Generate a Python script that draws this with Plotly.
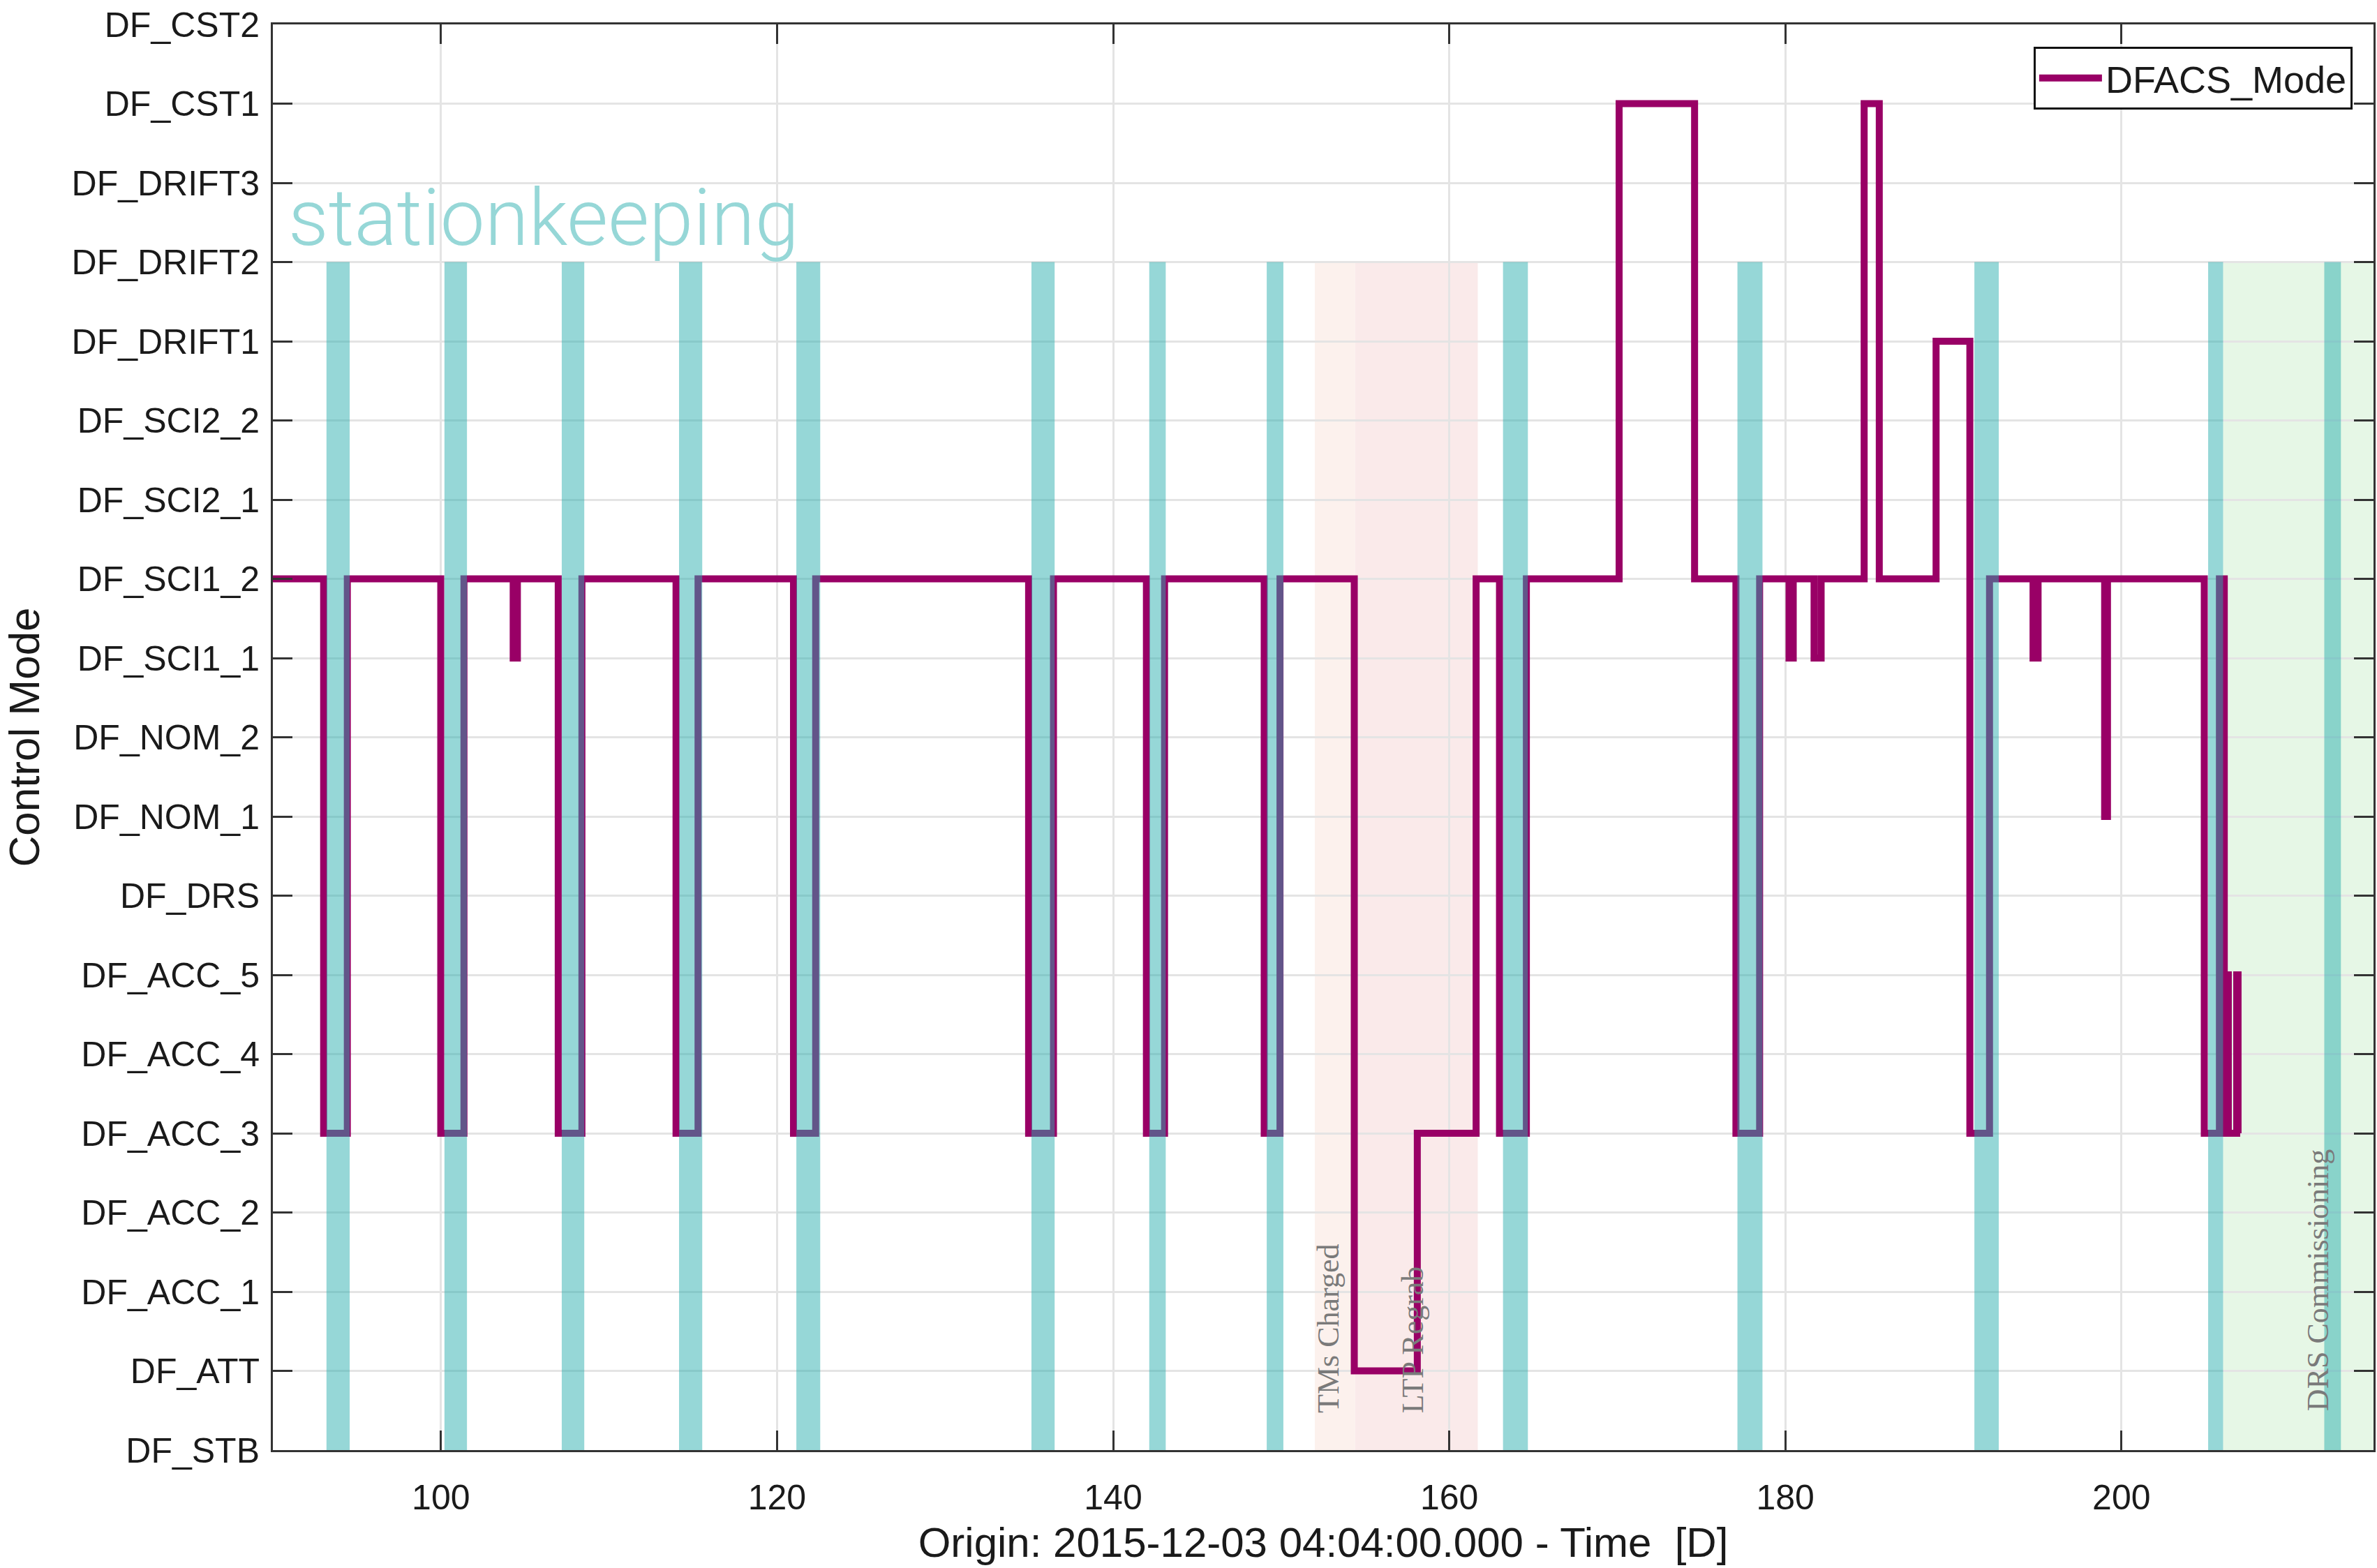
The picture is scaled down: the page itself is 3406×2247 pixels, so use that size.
import plotly.graph_objects as go

# ---------------- data ----------------
modes = ["DF_STB", "DF_ATT", "DF_ACC_1", "DF_ACC_2", "DF_ACC_3", "DF_ACC_4",
         "DF_ACC_5", "DF_DRS", "DF_NOM_1", "DF_NOM_2", "DF_SCI1_1", "DF_SCI1_2",
         "DF_SCI2_1", "DF_SCI2_2", "DF_DRIFT1", "DF_DRIFT2", "DF_DRIFT3",
         "DF_CST1", "DF_CST2"]

time_days = [89.0, 93.02, 94.43, 99.99, 101.37, 104.30, 104.55, 106.98, 108.39,
             113.99, 115.30, 120.98, 122.30, 134.97, 136.45, 141.98, 143.06,
             148.99, 149.93, 154.35, 158.10, 161.60, 162.99, 164.59, 170.11,
             174.60, 177.06, 178.47, 180.22, 180.47, 181.71, 182.13, 184.69,
             185.59, 188.97, 190.98, 192.15, 194.74, 195.04, 199.00, 199.17,
             204.93, 205.83, 206.12, 206.28, 206.36, 206.86, 206.94, 207.00]

dfacs_mode = ["DF_SCI1_2", "DF_ACC_3", "DF_SCI1_2", "DF_ACC_3", "DF_SCI1_2",
              "DF_SCI1_1", "DF_SCI1_2", "DF_ACC_3", "DF_SCI1_2", "DF_ACC_3",
              "DF_SCI1_2", "DF_ACC_3", "DF_SCI1_2", "DF_ACC_3", "DF_SCI1_2",
              "DF_ACC_3", "DF_SCI1_2", "DF_ACC_3", "DF_SCI1_2", "DF_ATT",
              "DF_ACC_3", "DF_SCI1_2", "DF_ACC_3", "DF_SCI1_2", "DF_CST1",
              "DF_SCI1_2", "DF_ACC_3", "DF_SCI1_2", "DF_SCI1_1", "DF_SCI1_2",
              "DF_SCI1_1", "DF_SCI1_2", "DF_CST1", "DF_SCI1_2", "DF_DRIFT1",
              "DF_ACC_3", "DF_SCI1_2", "DF_SCI1_1", "DF_SCI1_2", "DF_NOM_1",
              "DF_SCI1_2", "DF_ACC_3", "DF_SCI1_2", "DF_ACC_3", "DF_ACC_5",
              "DF_ACC_3", "DF_ACC_5", "DF_ACC_3", "DF_ACC_3"]

# station-keeping windows (start, end) in days
sk_start = [93.19, 100.21, 107.19, 114.17, 121.15, 135.14, 142.15, 149.14,
            163.20, 177.15, 191.25, 205.16, 212.07]
sk_end = [94.57, 101.55, 108.53, 115.55, 122.57, 136.52, 143.13, 150.13,
          164.68, 178.64, 192.70, 206.05, 213.06]

# event periods
tms_charged = (152.0, 154.4)
ltp_regrab = (154.4, 161.7)
drs_comm = (206.05, 215.0)

x_ticks = [100, 120, 140, 160, 180, 200]
x_range = [90, 215]

# ---------------- figure ----------------
font_main = "Liberation Sans, Arial, sans-serif"
band_top = modes.index("DF_DRIFT2")

fig = go.Figure()

fig.add_trace(go.Scatter(
    x=time_days, y=dfacs_mode, mode="lines", name="DFACS_Mode",
    line=dict(color="#990066", width=10, shape="hv"),
))

# background event periods (below grid)
fig.add_shape(type="rect", xref="x", yref="y", x0=tms_charged[0], x1=tms_charged[1],
              y0=0, y1=band_top, fillcolor="#fcf1ed", line_width=0, layer="below")
fig.add_shape(type="rect", xref="x", yref="y", x0=ltp_regrab[0], x1=ltp_regrab[1],
              y0=0, y1=band_top, fillcolor="#faeaea", line_width=0, layer="below")
fig.add_shape(type="rect", xref="x", yref="y", x0=drs_comm[0], x1=drs_comm[1],
              y0=0, y1=band_top, fillcolor="#e6f7e6", line_width=0, layer="below")

# station-keeping bands (above line, translucent)
for s, e in zip(sk_start, sk_end):
    fig.add_shape(type="rect", xref="x", yref="y", x0=s, x1=e, y0=0, y1=band_top,
                  fillcolor="rgb(41,173,173)", opacity=0.49, line_width=0, layer="above")

# annotations
fig.add_annotation(x=90.85, y=15.56, xref="x", yref="y", text="stationkeeping",
                   showarrow=False, xanchor="left", yanchor="middle",
                   font=dict(family="Roboto, Lato, sans-serif", size=114, color="#96d7d7", weight=300))
serif = "Liberation Serif, Times New Roman, serif"
fig.add_annotation(x=152.83, y=0.45, xref="x", yref="y", text="TMs Charged",
                   showarrow=False, textangle=-90, xanchor="center", yanchor="bottom",
                   font=dict(family=serif, size=44, color="#7a7a7a"))
fig.add_annotation(x=157.85, y=0.45, xref="x", yref="y", text="LTP Regrab",
                   showarrow=False, textangle=-90, xanchor="center", yanchor="bottom",
                   font=dict(family=serif, size=44, color="#7a7a7a"))
fig.add_annotation(x=211.7, y=0.475, xref="x", yref="y", text="DRS Commissioning",
                   showarrow=False, textangle=-90, xanchor="center", yanchor="bottom",
                   font=dict(family=serif, size=44, color="#7a7a7a"))

axis_common = dict(
    showline=True, linecolor="#333333", linewidth=3, mirror="ticks",
    ticks="inside", ticklen=28, tickwidth=3, tickcolor="#333333",
    showgrid=True, gridcolor="#e4e4e4", gridwidth=3, zeroline=False,
    tickfont=dict(family=font_main, size=50, color="#1a1a1a"),
)

fig.update_xaxes(
    range=x_range, tickvals=x_ticks, ticklabelstandoff=22,
    title=dict(text="Origin: 2015-12-03 04:04:00.000 - Time  [D]",
               font=dict(family=font_main, size=60, color="#1a1a1a"), standoff=16),
    **axis_common,
)
fig.update_yaxes(
    type="category", categoryorder="array", categoryarray=modes,
    range=[0, len(modes) - 1], ticklabelstandoff=6,
    title=dict(text="Control Mode",
               font=dict(family=font_main, size=62, color="#1a1a1a"), standoff=28),
    **axis_common,
)

fig.update_layout(
    width=3406, height=2247,
    margin=dict(l=391, r=5, t=35, b=169, autoexpand=False),
    paper_bgcolor="white", plot_bgcolor="white",
    showlegend=True,
    legend=dict(x=0.990, y=0.9843, xanchor="right", yanchor="top",
                bgcolor="white", bordercolor="#111111", borderwidth=3,
                itemwidth=90,
                font=dict(family=font_main, size=54, color="#1a1a1a")),
)

fig.write_html("out.html")
